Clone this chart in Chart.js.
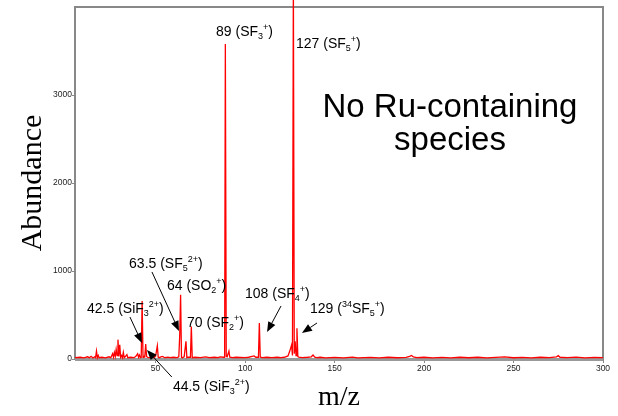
<!DOCTYPE html>
<html>
<head>
<meta charset="utf-8">
<script src="https://cdn.jsdelivr.net/npm/chart.js@4.4.0/dist/chart.umd.min.js"></script>
<style>
html, body { margin: 0; padding: 0; background: #fff; }
</style>
</head>
<body>
<canvas id="mycanvas" width="618" height="416"></canvas>
<script>
// spectrum (m/z and abundance)
var mz = [5, 8, 10, 12, 13, 14, 15, 16, 16.5, 17, 17.5, 18, 18.5, 20, 22, 24, 25, 26, 26.5, 27, 27.5, 28, 28.5, 29, 29.5, 30, 30.5, 31, 31.5, 32, 32.5, 33, 34, 34.5, 36, 38, 39, 40, 40.5, 41, 41.5, 42, 42.5, 43, 43.5, 44, 44.5, 45, 45.5, 46, 48, 49, 50, 51, 51.5, 52, 53, 54, 55, 57, 58, 60, 62, 63, 63.5, 64, 64.5, 65, 66, 67, 67.5, 68, 69.5, 70, 70.5, 72, 75, 78, 80, 83, 85, 86, 88, 88.6, 89, 89.5, 90, 91, 91.5, 93, 95, 100, 102, 104, 105, 106, 107.5, 108, 108.5, 110, 112, 115, 118, 120, 122, 124, 125, 126, 126.5, 127, 127.5, 128, 128.5, 129, 129.5, 130, 132, 135, 137, 138, 139, 140, 142, 145, 150, 155, 160, 163, 170, 175, 180, 185, 190, 192, 193, 194, 196, 200, 205, 210, 215, 220, 225, 230, 235, 240, 245, 250, 255, 260, 265, 270, 274, 275, 276, 280, 285, 290, 295, 300];
var abundance = [15, 20, 12, 25, 15, 30, 12, 25, 15, 90, 15, 40, 15, 20, 12, 25, 15, 60, 20, 75, 30, 110, 40, 220, 30, 160, 20, 40, 15, 75, 15, 25, 50, 15, 20, 15, 30, 60, 20, 45, 15, 20, 660, 20, 30, 25, 170, 30, 20, 15, 20, 15, 30, 150, 20, 15, 25, 30, 15, 20, 15, 20, 15, 25, 260, 730, 20, 15, 25, 200, 15, 20, 20, 370, 15, 20, 15, 25, 15, 20, 15, 25, 20, 20, 3580, 30, 25, 90, 20, 15, 20, 15, 20, 30, 35, 20, 20, 410, 20, 15, 20, 15, 20, 15, 20, 35, 90, 160, 40, 4300, 60, 200, 40, 350, 30, 20, 15, 20, 25, 45, 20, 15, 20, 12, 18, 12, 22, 12, 18, 12, 20, 14, 18, 30, 40, 25, 15, 20, 12, 18, 12, 20, 14, 20, 12, 18, 25, 14, 18, 12, 20, 15, 25, 38, 20, 15, 22, 12, 18, 15];

var xTicks = [50, 100, 150, 200, 250, 300];
var yTicks = [0, 1000, 2000, 3000];

// peak labels: rich text segments, anchored at (x, y) in data units
var annText = [
  [['89 (SF'], ['3', 'sub'], ['+', 'sup'], [')']],
  [['127 (SF'], ['5', 'sub'], ['+', 'sup'], [')']],
  [['63.5 (SF'], ['5', 'sub'], ['2+', 'sup'], [')']],
  [['64 (SO'], ['2', 'sub'], ['+', 'sup'], [')']],
  [['42.5 (SiF'], ['3', 'sub'], ['2+', 'sup'], [')']],
  [['70 (SF'], ['2', 'sub'], ['+', 'sup'], [')']],
  [['108 (SF'], ['4', 'sub'], ['+', 'sup'], [')']],
  [['129 ('], ['34', 'sup'], ['SF'], ['5', 'sub'], ['+', 'sup'], [')']],
  [['44.5 (SiF'], ['3', 'sub'], ['2+', 'sup'], [')']]
];
var annX = [83.8, 128.5, 35.2, 56.4, 11.7, 67.6, 100, 136.3, 59.7];
var annY = [3670, 3534, 1034, 784, 523, 364, 693, 523, -364];

var arrowFromX = [48.0, 35.7, 120.1, 140.2, 59.1];
var arrowFromY = [989, 477, 602, 409, -205];
var arrowToX = [63.1, 42.4, 112.3, 131.8, 45.2];
var arrowToY = [318, 182, 307, 295, 102];

var noteLines = ['No Ru-containing', 'species'];
var noteX = 214.5;
var noteY = [2750, 2375];

var FONT = '"Liberation Sans", Arial, Helvetica, sans-serif';
var SERIF = '"Liberation Serif", "Times New Roman", serif';

function drawRich(ctx, segs, x, y) {
  var cx = x;
  segs.forEach(function(s) {
    var small = s[1] ? true : false;
    var dy = s[1] === 'sub' ? 3 : (s[1] === 'sup' ? -6 : 0);
    ctx.font = (small ? 9 : 14) + 'px ' + FONT;
    ctx.fillText(s[0], cx, y + dy);
    cx += ctx.measureText(s[0]).width;
  });
}

function drawArrow(ctx, x1, y1, x2, y2) {
  var a = Math.atan2(y2 - y1, x2 - x1);
  var len = 10, w = 4;
  var bx = x2 - len * Math.cos(a), by = y2 - len * Math.sin(a);
  ctx.beginPath();
  ctx.moveTo(x1, y1);
  ctx.lineTo(bx, by);
  ctx.lineWidth = 1;
  ctx.strokeStyle = '#000';
  ctx.stroke();
  ctx.beginPath();
  ctx.moveTo(x2, y2);
  ctx.lineTo(bx + w * Math.sin(a), by - w * Math.cos(a));
  ctx.lineTo(bx - w * Math.sin(a), by + w * Math.cos(a));
  ctx.closePath();
  ctx.fillStyle = '#000';
  ctx.fill();
}

var framePlugin = {
  id: 'frame',
  beforeDatasetsDraw: function(chart) {
    var ctx = chart.ctx, a = chart.chartArea;
    ctx.save();
    ctx.strokeStyle = '#888';
    ctx.lineWidth = 2;
    ctx.strokeRect(a.left, a.top, a.right - a.left, a.bottom - a.top);
    ctx.fillStyle = '#999';
    ctx.fillRect(a.left, a.bottom - 1, a.right - a.left, 3);
    ctx.restore();
  }
};

var annotePlugin = {
  id: 'annote',
  afterDatasetsDraw: function(chart) {
    var ctx = chart.ctx, xs = chart.scales.x, ys = chart.scales.y;
    ctx.save();
    ctx.fillStyle = '#000';
    ctx.textBaseline = 'alphabetic';
    ctx.textAlign = 'left';
    for (var i = 0; i < annText.length; i++) {
      drawRich(ctx, annText[i], xs.getPixelForValue(annX[i]), ys.getPixelForValue(annY[i]));
    }
    for (var j = 0; j < arrowFromX.length; j++) {
      drawArrow(ctx, xs.getPixelForValue(arrowFromX[j]), ys.getPixelForValue(arrowFromY[j]),
        xs.getPixelForValue(arrowToX[j]), ys.getPixelForValue(arrowToY[j]));
    }
    ctx.fillStyle = '#000';
    ctx.textAlign = 'center';
    ctx.font = '33px ' + FONT;
    for (var k = 0; k < noteLines.length; k++) {
      ctx.fillText(noteLines[k], xs.getPixelForValue(noteX), ys.getPixelForValue(noteY[k]));
    }
    ctx.restore();
  }
};

var points = mz.map(function(m, i) { return { x: m, y: abundance[i] }; });

var ctx = document.getElementById('mycanvas');
var spectrum = new Chart(ctx, {
  type: 'scatter',
  data: {
    datasets: [{
      label: 'Abundance',
      data: points,
      showLine: true,
      borderColor: '#ff0000',
      backgroundColor: '#ff0000',
      borderWidth: 1.3,
      pointRadius: 0,
      tension: 0,
      clip: false
    }]
  },
  options: {
    responsive: false,
    animation: false,
    layout: { padding: { top: 7, right: 15, left: 0, bottom: 0 } },
    plugins: { legend: { display: false }, tooltip: { enabled: false } },
    scales: {
      x: {
        type: 'linear',
        min: 5,
        max: 300,
        afterFit: function(s) { s.height = 57; },
        afterBuildTicks: function(s) { s.ticks = xTicks.map(function(v) { return { value: v }; }); },
        ticks: { font: { size: 8.5, family: FONT }, color: '#222', padding: 1, maxRotation: 0,
          callback: function(v) { return String(v); } },
        grid: { display: true, drawOnChartArea: false, drawTicks: true, tickLength: 4, color: '#888' },
        border: { display: false },
        title: { display: true, text: 'm/z', font: { size: 28, family: SERIF, lineHeight: 1 }, color: '#000', padding: { top: 0, bottom: 4 } }
      },
      y: {
        type: 'linear',
        min: 0,
        max: 4000,
        afterFit: function(s) { s.width = 75; },
        afterBuildTicks: function(s) { s.ticks = yTicks.map(function(v) { return { value: v }; }); },
        ticks: { font: { size: 8.5, family: FONT }, color: '#222', padding: 0,
          callback: function(v) { return String(v); } },
        grid: { display: true, drawOnChartArea: false, drawTicks: true, tickLength: 3, color: '#888' },
        border: { display: false },
        title: { display: true, text: 'Abundance', font: { size: 30, family: SERIF, lineHeight: 1 }, color: '#000', padding: { top: 18, bottom: 0 } }
      }
    }
  },
  plugins: [framePlugin, annotePlugin]
});
</script>
</body>
</html>
